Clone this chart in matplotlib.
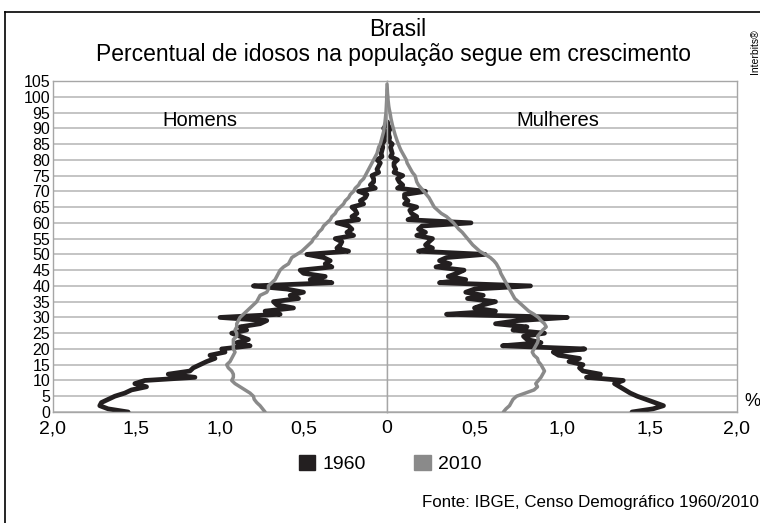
import matplotlib
matplotlib.use("Agg")
import matplotlib.pyplot as plt
from matplotlib.patches import Patch
from matplotlib.lines import Line2D

plt.rcParams['font.family'] = ['Liberation Sans', 'DejaVu Sans']

# single-year ages
ages_1960 = list(range(0, 93))
ages_2010 = list(range(0, 105))

# percent of total population
homens_1960 = [
    1.55, 1.67, 1.72, 1.71, 1.67, 1.63, 1.57, 1.53, 1.44, 1.51,
    1.45, 1.15, 1.31, 1.18, 1.16, 1.12, 1.08, 1.03, 1.06, 0.97,
    0.99, 0.82, 0.90, 0.83, 0.88, 0.93, 0.84, 0.88, 0.76, 0.72,
    1.00, 0.64, 0.73, 0.56, 0.66, 0.68, 0.53, 0.58, 0.50, 0.60,
    0.80, 0.33, 0.46, 0.37, 0.50, 0.52, 0.33, 0.37, 0.34, 0.38,
    0.48, 0.23, 0.30, 0.28, 0.27, 0.31, 0.20, 0.24, 0.21, 0.23,
    0.30, 0.17, 0.21, 0.18, 0.19, 0.21, 0.14, 0.16, 0.13, 0.12,
    0.17, 0.07, 0.10, 0.08, 0.08, 0.09, 0.05, 0.06, 0.05, 0.04,
    0.06, 0.03, 0.035, 0.03, 0.025, 0.03, 0.015, 0.015, 0.012, 0.01,
    0.02, 0.005, 0.003,
]
mulheres_1960 = [
    1.40, 1.52, 1.58, 1.53, 1.48, 1.43, 1.39, 1.36, 1.33, 1.30,
    1.35, 1.14, 1.22, 1.12, 1.10, 1.12, 1.04, 1.10, 0.98, 0.95,
    1.13, 0.66, 0.88, 0.80, 0.78, 0.90, 0.72, 0.80, 0.62, 0.75,
    1.03, 0.34, 0.62, 0.50, 0.55, 0.62, 0.46, 0.55, 0.45, 0.50,
    0.82, 0.30, 0.45, 0.35, 0.40, 0.44, 0.28, 0.36, 0.30, 0.34,
    0.56, 0.18, 0.26, 0.22, 0.24, 0.26, 0.17, 0.22, 0.18, 0.20,
    0.48, 0.12, 0.17, 0.14, 0.13, 0.17, 0.10, 0.12, 0.10, 0.10,
    0.22, 0.06, 0.09, 0.07, 0.06, 0.09, 0.04, 0.05, 0.04, 0.04,
    0.06, 0.02, 0.03, 0.025, 0.02, 0.03, 0.01, 0.015, 0.01, 0.01,
    0.02, 0.005, 0.003,
]
homens_2010 = [
    0.73, 0.745, 0.76, 0.78, 0.795, 0.80, 0.82, 0.85, 0.88, 0.91,
    0.93, 0.92, 0.92, 0.93, 0.95, 0.96, 0.94, 0.93, 0.92, 0.91,
    0.92, 0.92, 0.92, 0.92, 0.90, 0.90, 0.91, 0.90, 0.90, 0.89,
    0.88, 0.86, 0.84, 0.82, 0.80, 0.78, 0.77, 0.76, 0.72, 0.71,
    0.71, 0.69, 0.67, 0.66, 0.65, 0.64, 0.62, 0.59, 0.58, 0.57,
    0.54, 0.51, 0.49, 0.47, 0.45, 0.44, 0.42, 0.41, 0.39, 0.38,
    0.36, 0.34, 0.33, 0.31, 0.30, 0.28, 0.26, 0.25, 0.23, 0.22,
    0.20, 0.19, 0.17, 0.16, 0.14, 0.13, 0.12, 0.11, 0.10, 0.09,
    0.08, 0.07, 0.06, 0.055, 0.05, 0.04, 0.035, 0.03, 0.025, 0.02,
    0.018, 0.015, 0.012, 0.01, 0.008, 0.006, 0.005, 0.004, 0.003, 0.002,
    0.002, 0.001, 0.001, 0.0, 0.0,
]
mulheres_2010 = [
    0.665, 0.68, 0.70, 0.71, 0.72, 0.74, 0.79, 0.84, 0.86, 0.85,
    0.865, 0.88, 0.89, 0.90, 0.89, 0.88, 0.865, 0.86, 0.84, 0.83,
    0.84, 0.85, 0.86, 0.865, 0.86, 0.875, 0.89, 0.91, 0.90, 0.88,
    0.865, 0.84, 0.81, 0.79, 0.77, 0.75, 0.73, 0.72, 0.71, 0.70,
    0.69, 0.68, 0.67, 0.66, 0.65, 0.645, 0.635, 0.625, 0.61, 0.59,
    0.56, 0.53, 0.51, 0.49, 0.475, 0.46, 0.445, 0.43, 0.41, 0.395,
    0.38, 0.36, 0.34, 0.31, 0.29, 0.27, 0.26, 0.25, 0.24, 0.225,
    0.21, 0.195, 0.18, 0.17, 0.165, 0.16, 0.145, 0.135, 0.125, 0.115,
    0.11, 0.10, 0.09, 0.08, 0.072, 0.065, 0.058, 0.052, 0.046, 0.041,
    0.036, 0.031, 0.027, 0.023, 0.02, 0.017, 0.013, 0.01, 0.008, 0.006,
    0.005, 0.003, 0.002, 0.001, 0.0,
]

y_ticks = list(range(0, 106, 5))
x_ticks_left = [2.0, 1.5, 1.0, 0.5]
x_ticks_right = [0, 0.5, 1.0, 1.5, 2.0]

c1960 = '#231f20'
c2010 = '#8a8a8a'
cgrid = '#b4b4b4'

W, H = 760, 523
fig = plt.figure(figsize=(W / 100, H / 100), dpi=100)

bottom = 1 - 412 / H
height = 331 / H
axL = fig.add_axes([53 / W, bottom, 334 / W, height])
axR = fig.add_axes([387 / W, bottom, 350 / W, height])

for ax in (axL, axR):
    ax.set_ylim(0, 105)
    ax.set_yticks(y_ticks)
    ax.yaxis.grid(True, color=cgrid, lw=1.1)
    ax.set_axisbelow(True)
    ax.tick_params(length=0)
    for s in ax.spines.values():
        s.set_color('#a6a6a6')
        s.set_linewidth(1.0)

axL.set_xlim(2, 0)
axR.set_xlim(0, 2)

axL.set_yticklabels([str(t) for t in y_ticks], fontsize=11.5)
axL.tick_params(axis='y', pad=2)
axR.set_yticklabels([])

axL.set_xticks(x_ticks_left)
axL.set_xticklabels([f"{t:.1f}".replace('.', ',') for t in x_ticks_left], fontsize=14)
axR.set_xticks(x_ticks_right)
axR.set_xticklabels(['0'] + [f"{t:.1f}".replace('.', ',') for t in x_ticks_right[1:]], fontsize=14)
for ax in (axL, axR):
    ax.tick_params(axis='x', pad=6)

line_kw = dict(solid_capstyle='round', solid_joinstyle='round')
axL.plot(homens_1960, ages_1960, color=c1960, lw=3.4, zorder=2, **line_kw)
axR.plot(mulheres_1960, ages_1960, color=c1960, lw=3.4, zorder=2, **line_kw)
axL.plot(homens_2010, ages_2010, color=c2010, lw=2.5, zorder=3, **line_kw)
axR.plot(mulheres_2010, ages_2010, color=c2010, lw=2.5, zorder=3, **line_kw)

# side labels
fig.text(200 / W, 1 - 121 / H, 'Homens', ha='center', va='center', fontsize=14.5)
fig.text(558 / W, 1 - 121 / H, 'Mulheres', ha='center', va='center', fontsize=14.5)
fig.text(752 / W, 1 - 402 / H, '%', ha='center', va='center', fontsize=13)

# titles
fig.text(398 / W, 1 - 30 / H, 'Brasil', ha='center', va='center', fontsize=16.5)
fig.text(394 / W, 1 - 54 / H, 'Percentual de idosos na população segue em crescimento',
         ha='center', va='center', fontsize=16.5)
fig.text(755 / W, 1 - 52 / H, 'Interbits®', rotation=90, ha='center', va='center', fontsize=7.5)

# legend
handles = [Patch(facecolor=c1960, edgecolor=c1960), Patch(facecolor=c2010, edgecolor=c2010)]
fig.legend(handles, ['1960', '2010'], loc='center', bbox_to_anchor=(390 / W, 1 - 464 / H),
           ncol=2, frameon=False, fontsize=14, handlelength=0.85, handleheight=0.85,
           handletextpad=0.35, columnspacing=2.5)

fig.text(759 / W, 1 - 503 / H, 'Fonte: IBGE, Censo Demográfico 1960/2010',
         ha='right', va='center', fontsize=12.2)

# outer frame
fig.add_artist(Line2D([5 / W, 5 / W], [0, 1 - 12 / H], color='black', lw=1.2))
fig.add_artist(Line2D([5 / W, 1], [1 - 12 / H, 1 - 12 / H], color='black', lw=1.2))

fig.savefig('out.png', dpi=100)
